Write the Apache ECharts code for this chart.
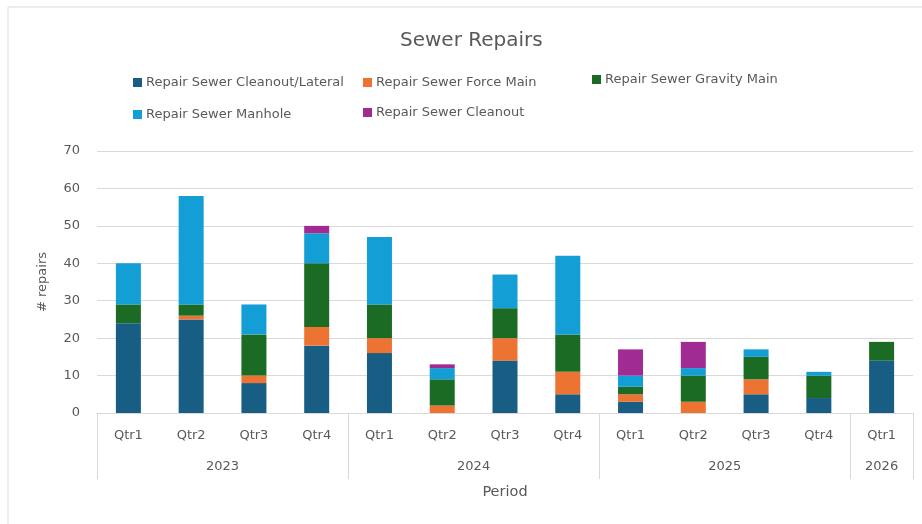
<!DOCTYPE html>
<html>
<head>
<meta charset="utf-8">
<title>Sewer Repairs</title>
<script src="https://cdn.jsdelivr.net/npm/echarts@6/dist/echarts.min.js"></script>
<style>
  html, body { margin: 0; padding: 0; background: #fff; }
  #chart { width: 922px; height: 524px; }
</style>
</head>
<body>
<div id="chart"></div>
<script>
// quarters along the bottom, years grouped below them
const quarters = ['Qtr1', 'Qtr2', 'Qtr3', 'Qtr4', 'Qtr1', 'Qtr2', 'Qtr3', 'Qtr4', 'Qtr1', 'Qtr2', 'Qtr3', 'Qtr4', 'Qtr1']
const years = ['2023', '2024', '2025', '2026']
const quartersPerYear = [4, 4, 4, 1]

const cleanoutLateral = [24, 25, 8, 18, 16, 0, 14, 5, 3, 0, 5, 4, 14]
const forceMain = [0, 1, 2, 5, 4, 2, 6, 6, 2, 3, 4, 0, 0]
const gravityMain = [5, 3, 11, 17, 9, 7, 8, 10, 2, 7, 6, 6, 5]
const manhole = [11, 29, 8, 8, 18, 3, 9, 21, 3, 2, 2, 1, 0]
const cleanout = [0, 0, 0, 2, 0, 1, 0, 0, 7, 7, 0, 0, 0]

const yTicks = [0, 10, 20, 30, 40, 50, 60, 70]

const names = [
  'Repair Sewer Cleanout/Lateral',
  'Repair Sewer Force Main',
  'Repair Sewer Gravity Main',
  'Repair Sewer Manhole',
  'Repair Sewer Cleanout'
]
const values = [cleanoutLateral, forceMain, gravityMain, manhole, cleanout]
const colors = ['#185e84', '#ec7331', '#1b6b24', '#139fd6', '#a02b93']

// year axis runs in half-quarter steps so the year text can sit in the middle of its group
const halfSlots = []
const yearLabelAt = {}
const yearEdges = { 0: true }
let pos = 0
years.forEach((y, i) => {
  yearLabelAt[pos + quartersPerYear[i]] = y
  pos += quartersPerYear[i] * 2
  yearEdges[pos] = true
})
for (let i = 0; i <= pos; i++) halfSlots.push(yearLabelAt[i] || '')

const textColor = '#595959'
const lineColor = '#d9d9d9'
const font = 'DejaVu Sans'

// legend is laid out like Excel: three columns, two rows
const legendPos = [
  { left: 133, top: 76 },
  { left: 363, top: 76 },
  { left: 592, top: 73 },
  { left: 133, top: 108 },
  { left: 363, top: 106 }
]

const chart = echarts.init(document.getElementById('chart'))

chart.setOption({
  animation: false,
  textStyle: { fontFamily: font },
  title: {
    text: 'Sewer Repairs',
    left: 395,
    top: 26,
    textStyle: { fontSize: 20, fontWeight: 'normal', color: textColor, fontFamily: font }
  },
  graphic: [{
    type: 'rect',
    shape: { x: 8, y: 7, width: 1000, height: 1000 },
    style: { fill: null, stroke: lineColor, lineWidth: 1 },
    silent: true
  }],
  legend: names.map((n, i) => ({
    data: [n],
    left: legendPos[i].left,
    top: legendPos[i].top,
    padding: 0,
    icon: 'rect',
    itemWidth: 9,
    itemHeight: 9,
    itemGap: 5,
    textStyle: { fontSize: 13, color: textColor, fontFamily: font, padding: [0, 0, 0, -1] },
    selectedMode: false
  })),
  grid: { left: 97, right: 9, top: 151, bottom: 111 },
  xAxis: [
    {
      type: 'category',
      data: quarters,
      axisLine: { lineStyle: { color: lineColor } },
      axisTick: { show: false },
      axisLabel: { color: textColor, fontSize: 13, margin: 16, interval: 0 }
    },
    {
      type: 'category',
      data: halfSlots,
      position: 'bottom',
      boundaryGap: false,
      axisLine: { show: false },
      axisTick: {
        show: true,
        length: 66,
        interval: (idx) => !!yearEdges[idx],
        lineStyle: { color: lineColor }
      },
      axisLabel: {
        color: textColor,
        fontSize: 13,
        margin: 47,
        interval: (idx) => halfSlots[idx] !== ''
      },
      name: 'Period',
      nameLocation: 'middle',
      nameGap: 72,
      nameTextStyle: { color: textColor, fontSize: 14.5 }
    }
  ],
  yAxis: {
    type: 'value',
    min: yTicks[0],
    max: yTicks[yTicks.length - 1],
    interval: yTicks[1] - yTicks[0],
    name: '# repairs',
    nameLocation: 'middle',
    nameRotate: 90,
    nameGap: 48,
    nameTextStyle: { color: textColor, fontSize: 13 },
    axisLine: { show: false },
    axisTick: { show: false },
    axisLabel: { color: textColor, fontSize: 13, margin: 17 },
    splitLine: { lineStyle: { color: lineColor } }
  },
  series: names.map((n, i) => ({
    name: n,
    type: 'bar',
    stack: 'total',
    barWidth: 25,
    itemStyle: { color: colors[i] },
    data: values[i]
  }))
})
</script>
</body>
</html>
